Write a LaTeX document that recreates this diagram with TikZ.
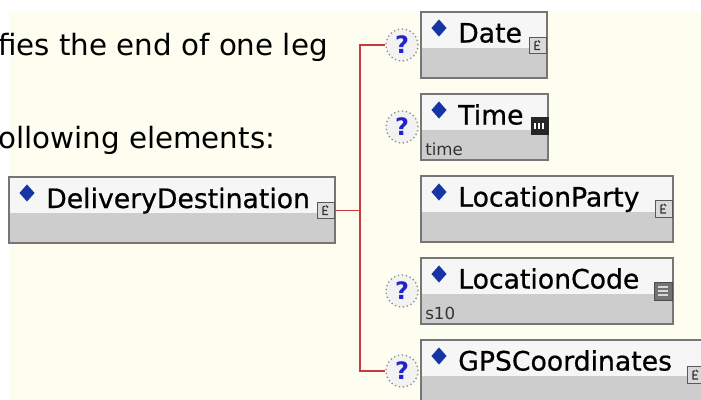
\documentclass[tikz,border=0pt]{standalone}
\usepackage{fontspec}
\setmainfont{DejaVu Sans}
\newfontfamily\namefont{DejaVu Sans}[FakeBold=0.7]
\usetikzlibrary{calc,positioning,shapes.geometric}

\definecolor{paper}{HTML}{FEFEF0}
\definecolor{bandtop}{HTML}{F6F6F6}
\definecolor{bandlow}{HTML}{CDCDCD}
\definecolor{boxedge}{HTML}{767676}
\definecolor{seqred}{HTML}{C8383C}
\definecolor{diamblue}{HTML}{1535A5}
\definecolor{qblue}{HTML}{2323C8}

\tikzset{
  bodytext/.style={anchor=base west, inner sep=0pt, font=\fontsize{22pt}{26pt}\selectfont},
  elembox/.style={draw=boxedge, line width=1.2pt, fill=bandtop, anchor=north west,
    inner sep=0pt, outer sep=0pt, minimum height=49.5pt,
    path picture={\fill[bandlow] (path picture bounding box.south west)
      rectangle ([yshift=22.5pt]path picture bounding box.south east);}},
  elemname/.style={anchor=base west, inner sep=0pt, font=\namefont\fontsize{20pt}{24pt}\selectfont},
  typetext/.style={anchor=base west, inner sep=0pt, text=black!80, font=\fontsize{12.5pt}{15pt}\selectfont},
  elemdiamond/.style={diamond, fill=diamblue, inner sep=0pt, minimum width=11.5pt, minimum height=13pt},
  cpxicon/.style={draw=black!65, fill=black!15, line width=0.7pt, minimum size=12.5pt, inner sep=0pt},
  simicon/.style={fill=black!85, minimum size=13.5pt, inner sep=0pt},
  listicon/.style={draw=black!70, fill=black!55, line width=0.7pt, minimum size=13.5pt, inner sep=0pt},
  glyph/.style={line width=0.8pt, black!80},
  optq/.style={circle, draw=black!45, dotted, line width=1pt, fill=black!5,
    minimum size=24pt, inner sep=0pt, text=qblue, font=\bfseries\fontsize{18pt}{20pt}\selectfont},
  seqline/.style={seqred, line width=1.4pt}
}

% small tree mark for complex types
\newcommand{\cpxglyph}[1]{%
  \draw[glyph] ([shift={(-3,-4)}]#1.center) -- ++(0,8) -- ++(5,0)
    ([shift={(-3,0)}]#1.center) -- ++(4,0)
    ([shift={(-3,-4)}]#1.center) -- ++(2,0) ++(1,-1) -- ++(2,2);}

\begin{document}
\begin{tikzpicture}[x=0.75pt,y=-0.75pt]
  \useasboundingbox (0,0) rectangle (701,400);
  \clip (0,0) rectangle (701,400);
  \fill[white] (0,0) rectangle (701,400);
  \fill[paper] (9,11) rectangle (701,400);

  % text on the left
  \node[bodytext] (line1) at (-2,55) {fies the end of one leg};
  \node[bodytext] (line2) at (-2,148) {ollowing elements:};

  % parent element
  \node[elembox, minimum width=244.5pt] (dd) at (9,177) {};
  \node[elemdiamond] (ddmark) at ($(dd.north west)+(18,16)$) {};
  \node[elemname] (ddname) at ($(dd.north west)+(37,31)$) {DeliveryDestination};
  \node[cpxicon] (ddicon) at ($(dd.north east)+(-9,33.5)$) {};
  \cpxglyph{ddicon}

  % child elements
  \node[elembox, minimum width=94.5pt] (date) at (421,12) {};
  \node[elemdiamond] (datemark) at ($(date.north west)+(18,16)$) {};
  \node[elemname] (datename) at ($(date.north west)+(37,30.5)$) {Date};
  \node[cpxicon] (dateicon) at ($(date.north east)+(-9,33.5)$) {};
  \cpxglyph{dateicon}

  \node[elembox, minimum width=95.25pt] (time) at (421,94) {};
  \node[elemdiamond] (timemark) at ($(time.north west)+(18,16)$) {};
  \node[elemname] (timename) at ($(time.north west)+(37,30.5)$) {Time};
  \node[typetext] (timetype) at ($(time.north west)+(4,61)$) {time};
  \node[simicon] (timeicon) at ($(time.north east)+(-8,32)$) {};
  \draw[white, line width=0.8pt] ([shift={(-5,-3)}]timeicon.center) -- ++(0,6)
    ([shift={(-1,-3)}]timeicon.center) -- ++(0,6)
    ([shift={(3,-3)}]timeicon.center) -- ++(0,6);

  \node[elembox, minimum width=189pt] (party) at (421,176) {};
  \node[elemdiamond] (partymark) at ($(party.north west)+(18,16)$) {};
  \node[elemname] (partyname) at ($(party.north west)+(37,30.5)$) {LocationParty};
  \node[cpxicon] (partyicon) at ($(party.north east)+(-9,33)$) {};
  \cpxglyph{partyicon}

  \node[elembox, minimum width=189pt] (code) at (421,258) {};
  \node[elemdiamond] (codemark) at ($(code.north west)+(18,16)$) {};
  \node[elemname] (codename) at ($(code.north west)+(37,30.5)$) {LocationCode};
  \node[typetext] (codetype) at ($(code.north west)+(4,61)$) {s10};
  \node[listicon] (codeicon) at ($(code.north east)+(-10,33)$) {};
  \draw[black!15, line width=0.8pt] ([shift={(-5,-4)}]codeicon.center) -- ++(10,0)
    ([shift={(-5,0)}]codeicon.center) -- ++(10,0)
    ([shift={(-5,4)}]codeicon.center) -- ++(10,0);

  \node[elembox, minimum width=213pt] (gps) at (421,340) {};
  \node[elemdiamond] (gpsmark) at ($(gps.north west)+(18,16)$) {};
  \node[elemname] (gpsname) at ($(gps.north west)+(37,30.5)$) {GPSCoordinates};
  \node[cpxicon] (gpsicon) at ($(gps.north east)+(-9,35)$) {};
  \cpxglyph{gpsicon}

  % optional markers
  \node[optq] (qdate) at (402,45) {?};
  \node[optq] (qtime) at (402,127) {?};
  \node[optq] (qcode) at (402,291) {?};
  \node[optq] (qgps) at (402,371) {?};

  % sequence connector
  \coordinate (bar) at (360,0);
  \draw[seqline] (ddicon.east) -- (ddicon.east -| bar);
  \draw[seqline] (qdate.west) -| (bar |- qgps) -- (qgps.west);
\end{tikzpicture}
\end{document}
